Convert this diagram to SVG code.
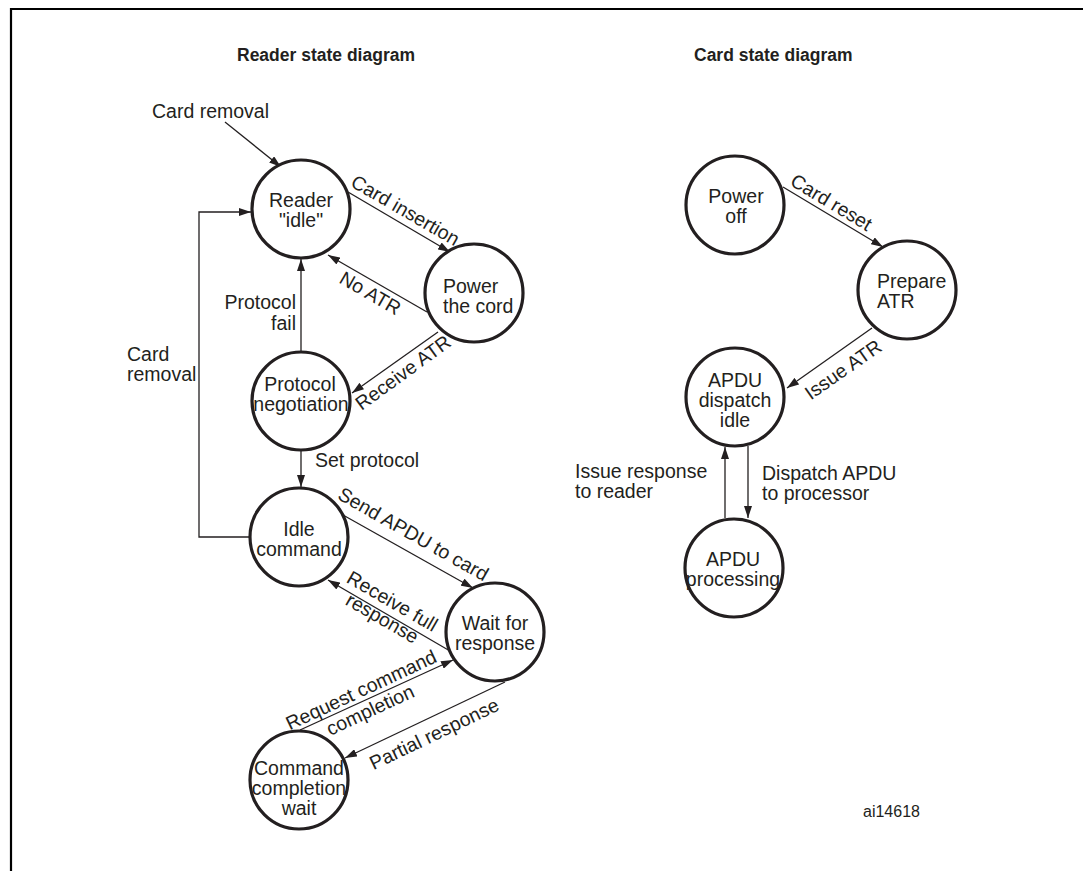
<svg xmlns="http://www.w3.org/2000/svg" width="1083" height="871" viewBox="0 0 1083 871">
<defs>
<style>
.st{fill:#fff;stroke:#231f20;stroke-width:3.2}
.t{font-family:"Liberation Sans",Arial,sans-serif;font-size:19.5px;fill:#231f20}
.c{text-anchor:middle}
.h{font-family:"Liberation Sans",Arial,sans-serif;font-size:17.5px;font-weight:bold;fill:#231f20}
.ln{fill:none;stroke:#231f20;stroke-width:1.3}
.a{marker-end:url(#arr)}
.fr{fill:none;stroke:#000;stroke-width:2.2}
</style>
<marker id="arr" viewBox="0 0 12 8" refX="12" refY="4" markerWidth="12" markerHeight="8" orient="auto" markerUnits="userSpaceOnUse"><path d="M0,0 L12,4 L0,8 z" fill="#231f20"/></marker>
</defs>
<rect width="1083" height="871" fill="#fff"/>
<path class="fr" d="M11,871 V9 H1083"/>
<text class="h" x="237" y="61">Reader state diagram</text>
<text class="h" x="694" y="61">Card state diagram</text>

<g id="connectors">
<path class="ln a" d="M225,122 L281,167"/>
<path class="ln a" d="M348,192 L450,252"/>
<path class="ln a" d="M427,312 L328,255"/>
<path class="ln a" d="M438,332 L352,393"/>
<path class="ln a" d="M301,352 L301,259"/>
<path class="ln a" d="M250,537 H199 V212 H251"/>
<path class="ln a" d="M301,450 L301,487"/>
<path class="ln a" d="M343,515 L473,588"/>
<path class="ln a" d="M450,651 L328,580"/>
<path class="ln a" d="M300,730 L453,660"/>
<path class="ln a" d="M505,682 L345,758"/>
<path class="ln a" d="M783,187 L883,247"/>
<path class="ln a" d="M872,328 L787,388"/>
<path class="ln a" d="M725,518 L725,447"/>
<path class="ln a" d="M748,446 L748,518"/>
<text class="t" x="152" y="118">Card removal</text>
<text class="t c" transform="translate(402,216) rotate(30)">Card insertion</text>
<text class="t c" transform="translate(367,299) rotate(30)">No ATR</text>
<text class="t c" transform="translate(407,378) rotate(-36)">Receive ATR</text>
<text class="t" x="296" y="309" text-anchor="end">Protocol</text>
<text class="t" x="296" y="330" text-anchor="end">fail</text>
<text class="t" x="127" y="361">Card</text>
<text class="t" x="127" y="381">removal</text>
<text class="t" x="315" y="467">Set protocol</text>
<text class="t c" transform="translate(410,540) rotate(29.5)">Send APDU to card</text>
<text class="t c" transform="translate(389,607) rotate(30)">Receive full</text>
<text class="t c" transform="translate(379,624) rotate(30)">response</text>
<text class="t c" transform="translate(364,696) rotate(-25)">Request command</text>
<text class="t c" transform="translate(373,716) rotate(-25)">completion</text>
<text class="t c" transform="translate(437,740) rotate(-25.5)">Partial response</text>
<text class="t c" transform="translate(828,208) rotate(31)">Card reset</text>
<text class="t c" transform="translate(847,375) rotate(-35)">Issue ATR</text>
<text class="t" x="575" y="478">Issue response</text>
<text class="t" x="575" y="498">to reader</text>
<text class="t" x="762" y="480">Dispatch APDU</text>
<text class="t" x="762" y="500">to processor</text>
</g>

<g id="reader-idle"><circle class="st" cx="301" cy="209" r="49"/><text class="t c" x="301" y="207">Reader</text><text class="t c" x="301" y="227">"idle"</text></g>
<g id="power-the-cord"><circle class="st" cx="474" cy="293" r="49"/><text class="t" x="443" y="293">Power</text><text class="t" x="443" y="313">the cord</text></g>
<g id="protocol-negotiation"><circle class="st" cx="301" cy="401" r="49"/><text class="t c" x="300" y="391">Protocol</text><text class="t c" x="301" y="411">negotiation</text></g>
<g id="idle-command"><circle class="st" cx="299" cy="537" r="49"/><text class="t c" x="299" y="536">Idle</text><text class="t c" x="299" y="556">command</text></g>
<g id="wait-for-response"><circle class="st" cx="495" cy="632" r="49"/><text class="t c" x="495" y="630">Wait for</text><text class="t c" x="495" y="650">response</text></g>
<g id="command-completion-wait"><circle class="st" cx="299" cy="780" r="49"/><text class="t c" x="299" y="775">Command</text><text class="t c" x="299" y="795">completion</text><text class="t c" x="299" y="815">wait</text></g>

<g id="power-off"><circle class="st" cx="735" cy="205" r="49"/><text class="t c" x="736" y="203">Power</text><text class="t c" x="736" y="223">off</text></g>
<g id="prepare-atr"><circle class="st" cx="907" cy="290" r="49"/><text class="t" x="877" y="288">Prepare</text><text class="t" x="877" y="308">ATR</text></g>
<g id="apdu-dispatch-idle"><circle class="st" cx="735" cy="397" r="49"/><text class="t c" x="735" y="387">APDU</text><text class="t c" x="735" y="407">dispatch</text><text class="t c" x="735" y="427">idle</text></g>
<g id="apdu-processing"><circle class="st" cx="734" cy="568" r="49"/><text class="t c" x="733" y="566">APDU</text><text class="t c" x="733" y="586">processing</text></g>

<text class="t" x="863" y="817" style="font-size:16px">ai14618</text>
</svg>
